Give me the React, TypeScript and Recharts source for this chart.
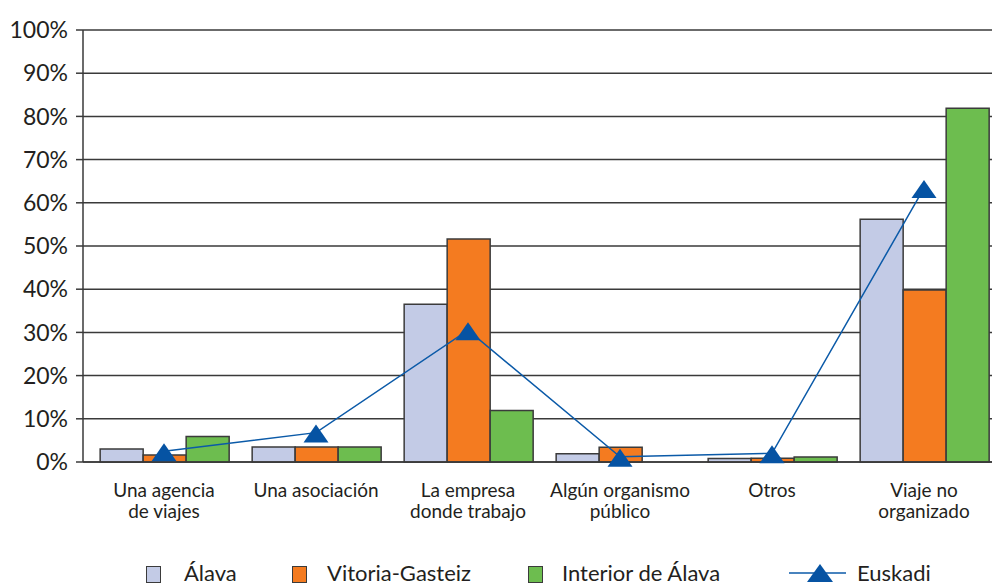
import React from 'react';
import { ComposedChart, Bar, Line, XAxis, YAxis, CartesianGrid, Legend } from 'recharts';

const categories = ['Una agencia de viajes', 'Una asociación', 'La empresa donde trabajo', 'Algún organismo público', 'Otros', 'Viaje no organizado'];
const categoryLines = [
  ['Una agencia', 'de viajes'],
  ['Una asociación'],
  ['La empresa', 'donde trabajo'],
  ['Algún organismo', 'público'],
  ['Otros'],
  ['Viaje no', 'organizado'],
];
const alava = [3.0, 3.5, 36.5, 1.9, 0.8, 56.2];
const vitoria = [1.6, 3.5, 51.6, 3.4, 0.85, 39.8];
const interior = [5.9, 3.5, 11.9, 0, 1.15, 81.9];
const euskadi = [2.5, 6.8, 30.5, 1.2, 2.0, 63.4];
const yTicks = [0, 10, 20, 30, 40, 50, 60, 70, 80, 90, 100];
const seriesNames = ['Álava', 'Vitoria-Gasteiz', 'Interior de Álava', 'Euskadi'];

const COLORS = { alava: '#c3cbe6', vitoria: '#f47b20', interior: '#6dbd4f', euskadi: '#0b5aa8', marker: '#0653a3' };
const FONT = 'Lato, "Open Sans", sans-serif';
const TEXT = '#231f20';

const data = categories.map((c, i) => ({
  name: c,
  alava: alava[i],
  vitoria: vitoria[i],
  interior: interior[i],
  euskadi: euskadi[i],
}));

const XTick = (props: any) => {
  const { x, y, payload } = props;
  const lines = categoryLines[payload.index] || [payload.value];
  return (
    <g>
      {lines.map((l: string, i: number) => (
        <text key={i} x={x} y={y + 35 + i * 21} textAnchor="middle" fill={TEXT} fontSize={19} fontFamily={FONT}>{l}</text>
      ))}
    </g>
  );
};

const Triangle = (props: any) => {
  const { cx, cy, index } = props;
  if (cx == null || cy == null) return <g key={index} />;
  const w = 25, h = 18;
  const top = cy - h / 2 + 1;
  return (
    <path key={index} d={`M${cx},${top} L${cx + w / 2},${top + h} L${cx - w / 2},${top + h} Z`} fill={COLORS.marker} />
  );
};

const LegendContent = () => {
  const sq = (left: number, color: string) => (
    <div style={{ position: 'absolute', left, top: 7, width: 15, height: 17, boxSizing: 'border-box', background: color, border: '1.5px solid #3b3b3b' }} />
  );
  const label = (left: number, text: string) => (
    <div style={{ position: 'absolute', left, top: 2, fontSize: 22, fontFamily: FONT, color: TEXT, whiteSpace: 'nowrap', lineHeight: '24px' }}>{text}</div>
  );
  return (
    <div style={{ position: 'relative', width: 992, height: 26 }}>
      {sq(146, COLORS.alava)}
      {label(184, seriesNames[0])}
      {sq(292, COLORS.vitoria)}
      {label(327, seriesNames[1])}
      {sq(528, COLORS.interior)}
      {label(562, seriesNames[2])}
      <svg style={{ position: 'absolute', left: 788, top: 0 }} width={62} height={26}>
        <line x1={1} y1={14} x2={58} y2={14} stroke={COLORS.euskadi} strokeWidth={1.5} />
        <path d="M32,5 L45,23 L19,23 Z" fill={COLORS.marker} />
      </svg>
      {label(857, seriesNames[3])}
    </div>
  );
};

export default function App() {
  return (
    <div style={{ position: 'absolute', left: 0, top: 0, width: 992, height: 585, overflow: 'hidden', background: '#fff' }}>
      <ComposedChart
        width={1001}
        height={585}
        data={data}
        margin={{ top: 30, right: 1, bottom: 37, left: 0 }}
        barCategoryGap="8%"
        barGap={0}
      >
        <CartesianGrid vertical={false} stroke="#3a3a3a" strokeWidth={1.5} />
        <XAxis
          dataKey="name"
          interval={0}
          tick={<XTick />}
          tickLine={false}
          tickSize={0}
          tickMargin={0}
          height={60}
          padding={{ left: 5, right: 0 }}
          axisLine={{ stroke: '#3a3a3a', strokeWidth: 1.5 }}
        />
        <YAxis
          domain={[0, 100]}
          ticks={yTicks}
          tickFormatter={(v: number) => `${v}%`}
          width={83}
          tickSize={7}
          tickMargin={8}
          interval={0}
          axisLine={{ stroke: '#3a3a3a', strokeWidth: 1.5 }}
          tickLine={{ stroke: '#3a3a3a', strokeWidth: 1.5 }}
          tick={{ fill: TEXT, fontSize: 23, fontFamily: FONT }}
        />
        <Legend
          content={<LegendContent />}
          wrapperStyle={{ position: 'absolute', left: 0, top: 559, bottom: 'auto', width: 992, height: 26 }}
        />
        <Bar dataKey="alava" name={seriesNames[0]} fill={COLORS.alava} stroke="#3b3b3b" strokeWidth={1.5} isAnimationActive={false} />
        <Bar dataKey="vitoria" name={seriesNames[1]} fill={COLORS.vitoria} stroke="#3b3b3b" strokeWidth={1.5} isAnimationActive={false} />
        <Bar dataKey="interior" name={seriesNames[2]} fill={COLORS.interior} stroke="#3b3b3b" strokeWidth={1.5} isAnimationActive={false} />
        <Line
          dataKey="euskadi"
          name={seriesNames[3]}
          type="linear"
          stroke={COLORS.euskadi}
          strokeWidth={1.5}
          dot={<Triangle />}
          activeDot={false}
          isAnimationActive={false}
        />
      </ComposedChart>
    </div>
  );
}
